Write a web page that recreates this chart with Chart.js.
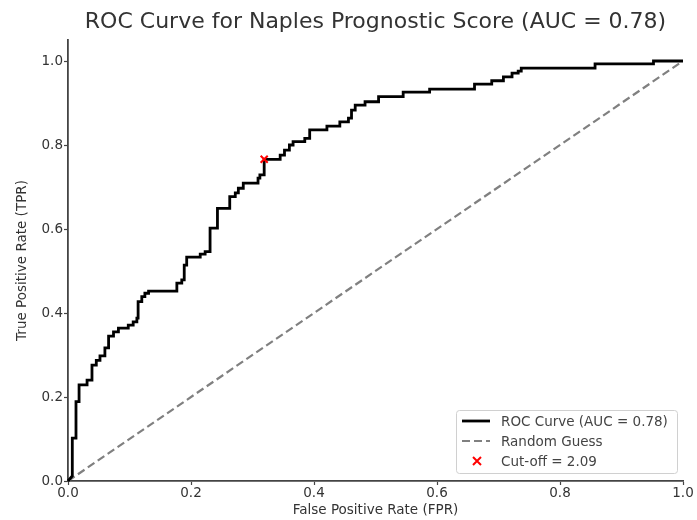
<!doctype html>
<html>
<head>
  <meta charset="utf-8" />
  <script src="https://cdn.jsdelivr.net/npm/chart.js@4.4.1/dist/chart.umd.min.js"></script>
  <style>
    body { margin: 0; background: #fff; }
  </style>
</head>
<body>
<canvas id="roc" width="697" height="520"></canvas>
<script>
  // corner points of the ROC staircase
  const fpr = [
    0, 0.007, 0.007, 0.013, 0.013, 0.018, 0.018, 0.031, 0.031, 0.039,
    0.039, 0.046, 0.046, 0.052, 0.052, 0.060, 0.060, 0.066, 0.066, 0.074,
    0.074, 0.082, 0.082, 0.098, 0.098, 0.106, 0.106, 0.112, 0.112, 0.114,
    0.114, 0.120, 0.120, 0.125, 0.125, 0.131, 0.131, 0.177, 0.177, 0.185,
    0.185, 0.189, 0.189, 0.193, 0.193, 0.215, 0.215, 0.223, 0.223, 0.231,
    0.231, 0.243, 0.243, 0.263, 0.263, 0.272, 0.272, 0.277, 0.277, 0.285,
    0.285, 0.309, 0.309, 0.312, 0.312, 0.319, 0.319, 0.345, 0.345, 0.352,
    0.352, 0.360, 0.360, 0.366, 0.366, 0.385, 0.385, 0.393, 0.393, 0.421,
    0.421, 0.442, 0.442, 0.456, 0.456, 0.461, 0.461, 0.467, 0.467, 0.483,
    0.483, 0.505, 0.505, 0.545, 0.545, 0.588, 0.588, 0.661, 0.661, 0.689,
    0.689, 0.708, 0.708, 0.722, 0.722, 0.732, 0.732, 0.737, 0.737, 0.857,
    0.857, 0.952, 0.952, 1.0
  ];
  const tpr = [
    0, 0.012, 0.102, 0.102, 0.189, 0.189, 0.229, 0.229, 0.240, 0.240,
    0.276, 0.276, 0.287, 0.287, 0.298, 0.298, 0.317, 0.317, 0.345, 0.345,
    0.355, 0.355, 0.364, 0.364, 0.371, 0.371, 0.379, 0.379, 0.388, 0.388,
    0.427, 0.427, 0.439, 0.439, 0.447, 0.447, 0.452, 0.452, 0.471, 0.471,
    0.479, 0.479, 0.514, 0.514, 0.533, 0.533, 0.540, 0.540, 0.546, 0.546,
    0.602, 0.602, 0.649, 0.649, 0.677, 0.677, 0.686, 0.686, 0.697, 0.697,
    0.709, 0.709, 0.721, 0.721, 0.729, 0.729, 0.766, 0.766, 0.776, 0.776,
    0.788, 0.788, 0.800, 0.800, 0.808, 0.808, 0.816, 0.816, 0.836, 0.836,
    0.845, 0.845, 0.855, 0.855, 0.864, 0.864, 0.883, 0.883, 0.895, 0.895,
    0.903, 0.903, 0.915, 0.915, 0.926, 0.926, 0.933, 0.933, 0.945, 0.945,
    0.953, 0.953, 0.962, 0.962, 0.971, 0.971, 0.976, 0.976, 0.983, 0.983,
    0.993, 0.993, 1.0, 1.0
  ];
  const chanceFpr = [0, 1];
  const chanceTpr = [0, 1];
  const cutoffFpr = [0.319];
  const cutoffTpr = [0.766];
  const xTicks = [0, 0.2, 0.4, 0.6, 0.8, 1.0];
  const yTicks = [0, 0.2, 0.4, 0.6, 0.8, 1.0];
  const seriesNames = ["ROC Curve (AUC = 0.78)", "Random Guess", "Cut-off = 2.09"];

  const FONT = '"DejaVu Sans", sans-serif';
  const AXIS = "#444";

  const toPoints = (xs, ys) => xs.map((x, i) => ({ x, y: ys[i] }));

  // matplotlib style legend box, lower right inside the axes
  const boxLegend = {
    id: "boxLegend",
    afterDraw(chart) {
      const { ctx, chartArea } = chart;
      const w = 221, h = 63;
      const left = chartArea.right - 6 - w;
      const top = chartArea.bottom - 8 - h;
      ctx.save();
      ctx.beginPath();
      ctx.roundRect(left + 0.5, top + 0.5, w, h, 3);
      ctx.fillStyle = "rgba(255,255,255,0.85)";
      ctx.fill();
      ctx.strokeStyle = "#d0d0d0";
      ctx.lineWidth = 1;
      ctx.stroke();

      chart.data.datasets.forEach((ds, i) => {
        const y = top + 11 + i * 20;
        if (ds.showLine) {
          ctx.beginPath();
          ctx.setLineDash(ds.borderDash || []);
          ctx.strokeStyle = ds.borderColor;
          ctx.lineWidth = ds.borderWidth;
          ctx.moveTo(left + 6, y);
          ctx.lineTo(left + 34, y);
          ctx.stroke();
          ctx.setLineDash([]);
        } else {
          const cx = left + 21, r = 4;
          ctx.beginPath();
          ctx.strokeStyle = ds.borderColor;
          ctx.lineWidth = 2;
          ctx.moveTo(cx - r, y - r); ctx.lineTo(cx + r, y + r);
          ctx.moveTo(cx - r, y + r); ctx.lineTo(cx + r, y - r);
          ctx.stroke();
        }
        ctx.fillStyle = AXIS;
        ctx.font = "13.5px " + FONT;
        ctx.textBaseline = "middle";
        ctx.fillText(ds.label, left + 45, y + 1);
      });
      ctx.restore();
    }
  };

  function axis(ticks, titleText, titlePad) {
    return {
      type: "linear",
      border: { color: AXIS, width: 1.8 },
      grid: { drawOnChartArea: false, tickLength: 4, tickColor: AXIS, tickWidth: 1.2 },
      afterBuildTicks: (s) => { s.ticks = ticks.map((value) => ({ value })); },
      ticks: {
        color: "#333",
        padding: 1,
        font: { family: FONT, size: 13.5 },
        callback: (v) => v.toFixed(1)
      },
      title: {
        display: true,
        text: titleText,
        color: "#333",
        font: { family: FONT, size: 13.5 },
        padding: titlePad
      }
    };
  }

  const xScale = axis(xTicks, "False Positive Rate (FPR)", { top: 0, bottom: 1 });
  xScale.min = 0;
  xScale.max = 1;
  xScale.ticks.padding = 0;
  xScale.afterFit = (s) => { s.height = 39; };

  const yScale = axis(yTicks, "True Positive Rate (TPR)", { top: 14, bottom: 0 });
  yScale.min = 0;
  yScale.max = 1.05;
  yScale.afterFit = (s) => { s.width = 68; };

  new Chart(document.getElementById("roc"), {
    type: "scatter",
    data: {
      datasets: [
        {
          label: seriesNames[0],
          data: toPoints(fpr, tpr),
          showLine: true,
          borderColor: "#000",
          borderWidth: 2.8,
          pointRadius: 0,
          clip: false,
          order: 1
        },
        {
          label: seriesNames[1],
          data: toPoints(chanceFpr, chanceTpr),
          showLine: true,
          borderColor: "#808080",
          borderWidth: 2.2,
          borderDash: [8, 4],
          pointRadius: 0,
          order: 2
        },
        {
          label: seriesNames[2],
          data: toPoints(cutoffFpr, cutoffTpr),
          showLine: false,
          pointStyle: "crossRot",
          pointRadius: 5,
          borderColor: "red",
          borderWidth: 2,
          order: 0
        }
      ]
    },
    options: {
      responsive: false,
      animation: false,
      layout: { padding: { left: 0, right: 14, top: 0, bottom: 0 } },
      scales: { x: xScale, y: yScale },
      plugins: {
        legend: { display: false },
        tooltip: { enabled: false },
        title: {
          display: true,
          fullSize: false,
          text: "ROC Curve for Naples Prognostic Score (AUC = 0.78)",
          color: "#333",
          font: { family: FONT, size: 22, weight: "normal" },
          padding: { top: 9, bottom: 4.6 }
        }
      }
    },
    plugins: [boxLegend]
  });
</script>
</body>
</html>
